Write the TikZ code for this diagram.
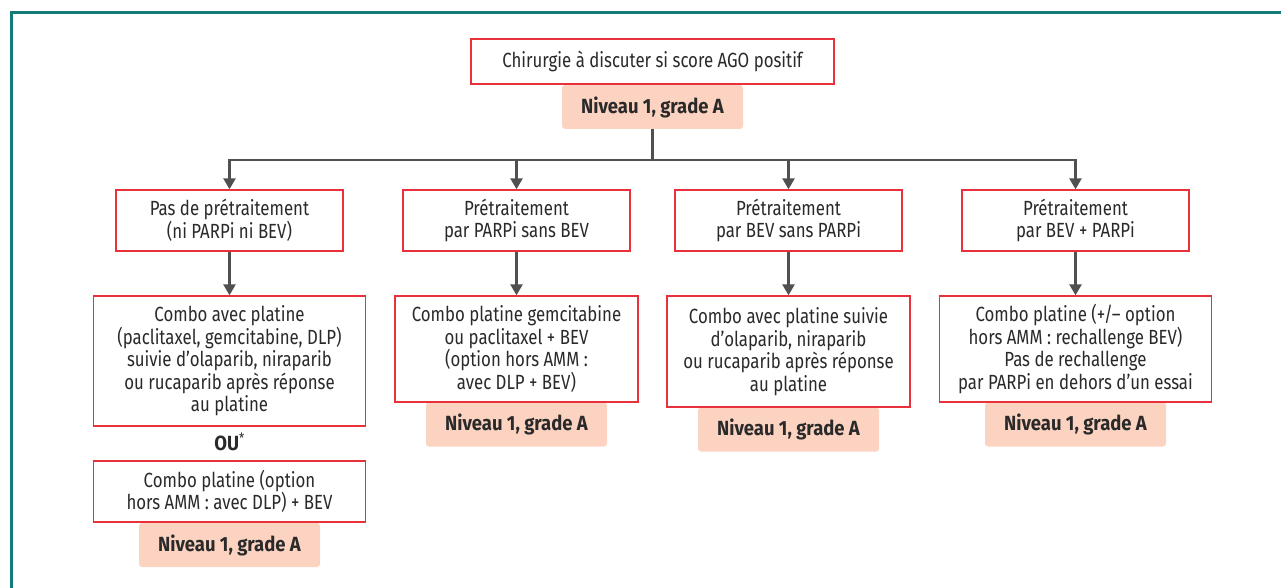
\documentclass[tikz,border=0pt]{standalone}
\usepackage{fontspec}
\setmainfont{Fira Sans}[FakeStretch=0.82, BoldFeatures={FakeStretch=0.90}]
\usetikzlibrary{arrows.meta}
\definecolor{boxred}{HTML}{E8313B}
\definecolor{peach}{HTML}{FCD3C1}
\definecolor{arrowgray}{HTML}{505050}
\definecolor{frameteal}{HTML}{127A78}
\definecolor{txt}{HTML}{2A2A2A}
\tikzset{
  box/.style={draw=boxred, line width=1.4pt, fill=white, text=txt, align=center,
    inner sep=0pt, font=\fontsize{20.5}{22.5}\selectfont},
  lvl/.style={fill=peach, rounded corners=3pt, text=txt, minimum width=181pt,
    minimum height=44pt, inner sep=0pt, font=\bfseries\fontsize{20.5}{22}\selectfont},
  conn/.style={draw=arrowgray, line width=2.6pt},
  arr/.style={conn, -{Triangle[width=12pt,length=11pt]}},
  frame/.style={draw=frameteal, line width=3pt},
}
\begin{document}
\begin{tikzpicture}[x=1pt,y=-1pt]
\useasboundingbox (0,0) rectangle (1281,588);
% frame
\draw[frame] (11,588) -- (11,13) -- (1281,13);

% level labels (drawn first so boxes overlap them)
\node[lvl] (l0) at (652.5,107) {Niveau 1, grade A};
\node[lvl] (l2) at (516.5,424.5) {Niveau 1, grade A};
\node[lvl] (l3) at (788.5,429.5) {Niveau 1, grade A};
\node[lvl] (l4) at (1075.5,424.5) {Niveau 1, grade A};
\node[lvl] (l5) at (229.5,545) {Niveau 1, grade A};

% top box
\node[box, minimum width=363pt, minimum height=45pt] (top) at (652.5,61.5)
  {Chirurgie à discuter si score AGO positif};

% row 2
\node[box, minimum width=227pt, minimum height=61pt] (b1) at (229.5,220.5)
  {Pas de prétraitement\\(ni PARPi ni BEV)};
\node[box, minimum width=227pt, minimum height=61pt] (b2) at (516.5,220.5)
  {Prétraitement\\par PARPi sans BEV};
\node[box, minimum width=227pt, minimum height=61pt] (b3) at (788.5,220.5)
  {Prétraitement\\par BEV sans PARPi};
\node[box, minimum width=227pt, minimum height=61pt] (b4) at (1075.5,220.5)
  {Prétraitement\\par BEV + PARPi};

% row 3
\node[box, minimum width=272pt, minimum height=130pt] (c1) at (229.5,361)
  {Combo avec platine\\(paclitaxel, gemcitabine, DLP)\\suivie d’olaparib, niraparib\\ou rucaparib après réponse\\au platine};
\node[box, minimum width=243pt, minimum height=106pt] (c2) at (516.5,349)
  {Combo platine gemcitabine\\ou paclitaxel + BEV\\(option hors AMM :\\avec DLP + BEV)};
\node[box, minimum width=243pt, minimum height=111pt] (c3) at (788.5,351.5)
  {Combo avec platine suivie\\d’olaparib, niraparib\\ou rucaparib après réponse\\au platine};
\node[box, minimum width=272pt, minimum height=106pt] (c4) at (1075.5,349)
  {Combo platine (+/– option\\hors AMM : rechallenge BEV)\\Pas de rechallenge\\par PARPi en dehors d’un essai};

% OU*
\node[text=txt, font=\fontsize{20.5}{22}\selectfont] (ou) at (229.5,442)
  {\bfseries OU\textsuperscript{\mdseries*}};

% row 4
\node[box, minimum width=272pt, minimum height=61pt] (d1) at (229.5,491.5)
  {Combo platine (option\\hors AMM : avec DLP) + BEV};

% connectors
\coordinate (j) at (652.5,160);
\draw[conn] (l0.south) -- (j);
\draw[arr] (j) -| (b1.north);
\draw[arr] (j) -| (b2.north);
\draw[arr] (j) -| (b3.north);
\draw[arr] (j) -| (b4.north);
\draw[arr] (b1.south) -- (c1.north);
\draw[arr] (b2.south) -- (c2.north);
\draw[arr] (b3.south) -- (c3.north);
\draw[arr] (b4.south) -- (c4.north);
\end{tikzpicture}
\end{document}
